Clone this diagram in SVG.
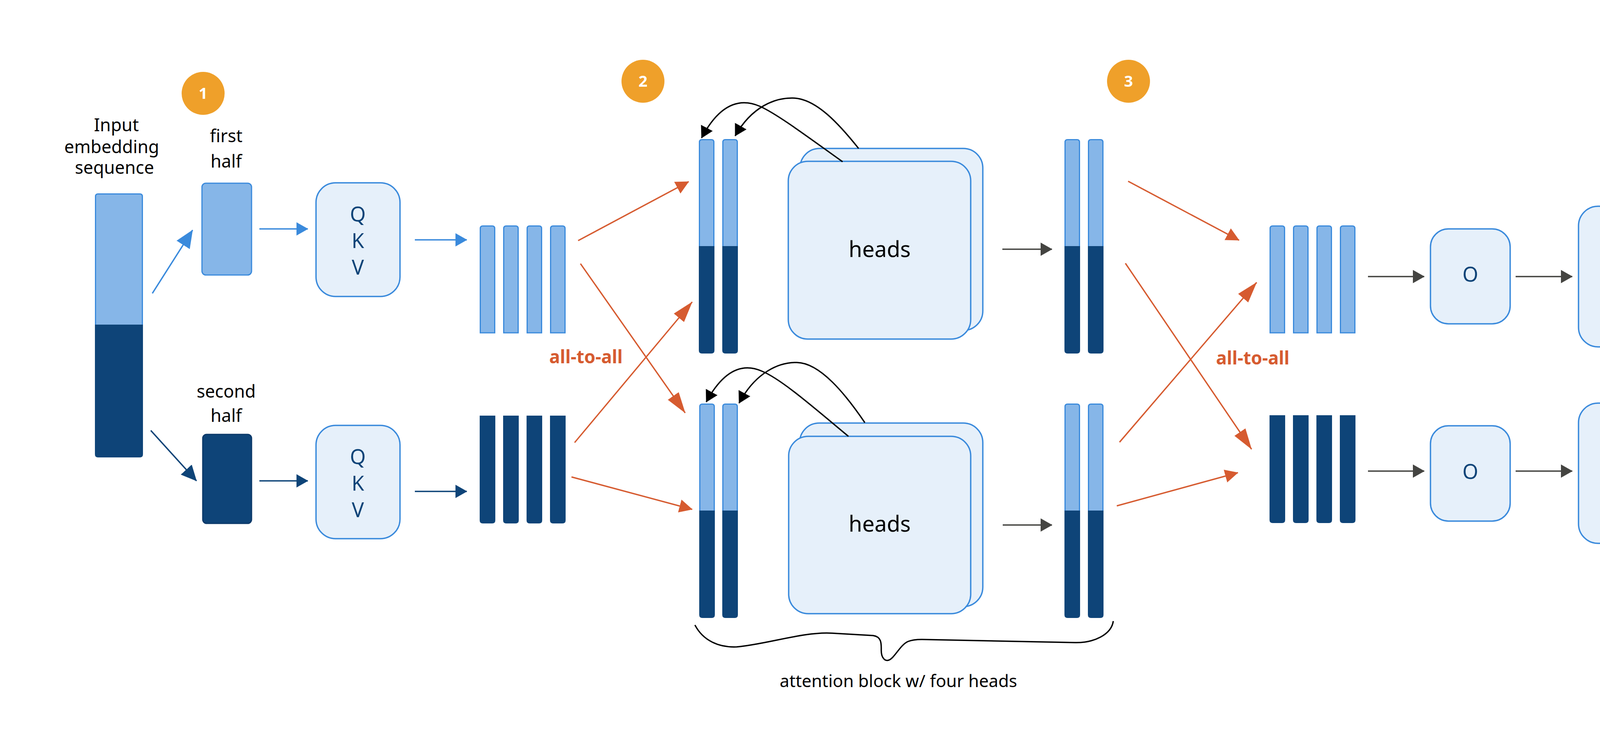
<svg xmlns="http://www.w3.org/2000/svg" width="4800" height="1920" viewBox="0 0 4800 1920">
<style>
.lt{fill:#86B6E8;stroke:#3A8ADC;stroke-width:3}
.dk{fill:#0E4478}
.box{fill:#E6F0FA;stroke:#3A8ADC;stroke-width:3.5}
.t{font-family:"Noto Sans","Open Sans",sans-serif;fill:#000;text-anchor:middle}
.lbl{font-family:"Noto Sans","Open Sans",sans-serif;fill:#0E4478;text-anchor:middle;font-size:52px}
.mlp{font-family:"Noto Sans","Open Sans",sans-serif;fill:#0E4478;text-anchor:middle;font-size:58px}
.a2a{font-family:"Noto Sans","Open Sans",sans-serif;fill:#D65B30;text-anchor:middle;font-size:46px;font-weight:bold}
.badge{fill:#EFA02A}
.num{font-family:"Noto Sans","Open Sans",sans-serif;fill:#fff;text-anchor:middle;font-size:40px;font-weight:bold}
.dots{font-family:"Liberation Sans",Arial,sans-serif;fill:#8A8A84;font-size:100px;letter-spacing:0.2px}
.cb{fill:none;stroke:#3A8ADC;stroke-width:3.5}
.cd{fill:none;stroke:#0E4478;stroke-width:3.5}
.co{fill:none;stroke:#D65B30;stroke-width:3.5}
.cg{fill:none;stroke:#444441;stroke-width:3.5}
.ck{fill:none;stroke:#000;stroke-width:3.5}
</style>
<defs>
<marker id="mB" markerUnits="userSpaceOnUse" markerWidth="32" markerHeight="36" refX="29" refY="17" orient="auto"><path d="M0,0 L30,17 L0,34 Z" fill="#3A8ADC"/></marker>
<marker id="mBL" markerUnits="userSpaceOnUse" markerWidth="48" markerHeight="42" refX="45" refY="20" orient="auto"><path d="M0,0 L46,20 L0,40 Z" fill="#3A8ADC"/></marker>
<marker id="mD" markerUnits="userSpaceOnUse" markerWidth="32" markerHeight="36" refX="29" refY="17" orient="auto"><path d="M0,0 L30,17 L0,34 Z" fill="#0E4478"/></marker>
<marker id="mDL" markerUnits="userSpaceOnUse" markerWidth="42" markerHeight="40" refX="39" refY="19" orient="auto"><path d="M0,0 L40,19 L0,38 Z" fill="#0E4478"/></marker>
<marker id="mO" markerUnits="userSpaceOnUse" markerWidth="36" markerHeight="36" refX="33" refY="17" orient="auto"><path d="M0,0 L34,17 L0,34 Z" fill="#D65B30"/></marker>
<marker id="mOL" markerUnits="userSpaceOnUse" markerWidth="56" markerHeight="36" refX="53" refY="17" orient="auto"><path d="M0,0 L54,17 L0,34 Z" fill="#D65B30"/></marker>
<marker id="mG" markerUnits="userSpaceOnUse" markerWidth="32" markerHeight="36" refX="29" refY="17" orient="auto"><path d="M0,0 L30,17 L0,34 Z" fill="#444441"/></marker>
<marker id="mK" markerUnits="userSpaceOnUse" markerWidth="32" markerHeight="36" refX="29" refY="17" orient="auto"><path d="M0,0 L30,17 L0,34 Z" fill="#000"/></marker>
<g id="aBar">
<path class="dk" d="M0,272 H40 V541 Q40,549 32,549 H8 Q0,549 0,541 Z"/>
<path class="lt" d="M1.5,274 V8 Q1.5,1.5 8,1.5 H32 Q38.5,1.5 38.5,8 V274"/>
</g>
<path id="qL" class="lt" d="M1.5,275 V8 Q1.5,1.5 8,1.5 H32 Q38.5,1.5 38.5,8 V275 Z"/>
<path id="qD" class="dk" d="M0,0 H40 V268 Q40,276 32,276 H8 Q0,276 0,268 Z"/>
</defs>
<rect width="4800" height="1920" fill="#fff"/>

<g id="badge1"><circle class="badge" cx="520" cy="239" r="55"/><text class="num" x="520" y="253">1</text></g>
<g id="badge2"><circle class="badge" cx="1646" cy="208" r="55"/><text class="num" x="1646" y="222">2</text></g>
<g id="badge3"><circle class="badge" cx="2889" cy="208" r="55"/><text class="num" x="2889" y="222">3</text></g>

<g id="input">
<text class="t" font-size="45" x="298" y="336">Input</text>
<text class="t" font-size="45" x="286" y="392">embedding</text>
<text class="t" font-size="45" x="293" y="445">sequence</text>
<path class="dk" d="M243,829 H366 V1163 Q366,1171 358,1171 H251 Q243,1171 243,1163 Z"/>
<path class="lt" d="M244.5,831 V503 Q244.5,496.5 251,496.5 H358 Q364.5,496.5 364.5,503 V831"/>
</g>

<g id="firstHalf">
<text class="t" font-size="45" x="579" y="364">first</text>
<text class="t" font-size="45" x="579" y="429">half</text>
<rect class="lt" x="517" y="469" width="127" height="235" rx="10" stroke-width="3.5"/>
</g>

<g id="secondHalf">
<text class="t" font-size="45" x="579" y="1018">second</text>
<text class="t" font-size="45" x="579" y="1080">half</text>
<rect x="519" y="1112" width="125" height="228" rx="10" fill="#0E4478" stroke="#0B3868" stroke-width="3"/>
</g>

<g id="qkvTop">
<rect class="box" x="809" y="468" width="215" height="291" rx="50"/>
<text class="lbl" x="916" y="567">Q</text>
<text class="lbl" x="916" y="635">K</text>
<text class="lbl" x="916" y="703">V</text>
</g>
<g id="qkvBottom">
<rect class="box" x="809" y="1089" width="215" height="290" rx="50"/>
<text class="lbl" x="916" y="1188">Q</text>
<text class="lbl" x="916" y="1256">K</text>
<text class="lbl" x="916" y="1324">V</text>
</g>

<g id="headsTopLeft">
<use href="#qL" x="1228" y="577"/><use href="#qL" x="1288" y="577"/><use href="#qL" x="1348" y="577"/><use href="#qL" x="1408" y="577"/>
</g>
<g id="headsBottomLeft">
<use href="#qD" x="1228" y="1064"/><use href="#qD" x="1288" y="1064"/><use href="#qD" x="1348" y="1064"/><use href="#qD" x="1408" y="1064"/>
</g>

<g id="labelA2A1"><text class="a2a" x="1500" y="930">all-to-all</text></g>

<g id="attnTopIn"><use href="#aBar" x="1789" y="356"/><use href="#aBar" x="1849" y="356"/></g>
<g id="attnBottomIn"><use href="#aBar" x="1790" y="1033"/><use href="#aBar" x="1849" y="1033"/></g>

<g id="headsTop">
<rect class="box" x="2048" y="380" width="468" height="466" rx="50"/>
<rect class="box" x="2018" y="413" width="467" height="455" rx="50"/>
<text class="t" font-size="56" x="2252" y="658">heads</text>
</g>
<g id="headsBottom">
<rect class="box" x="2047" y="1083" width="469" height="470" rx="50"/>
<rect class="box" x="2019" y="1117" width="466" height="454" rx="50"/>
<text class="t" font-size="56" x="2252" y="1361">heads</text>
</g>

<g id="attnTopOut"><use href="#aBar" x="2725" y="356"/><use href="#aBar" x="2785" y="356"/></g>
<g id="attnBottomOut"><use href="#aBar" x="2725" y="1033"/><use href="#aBar" x="2785" y="1033"/></g>

<g id="brace">
<path class="ck" d="M1779,1600 C1800,1640 1840,1658 1886,1656 C1960,1650 2060,1616 2131,1621 L2235,1627 C2258,1630 2256,1650 2256,1665 C2256,1685 2266,1693 2275,1690 C2290,1685 2305,1650 2325,1642 C2335,1638 2345,1637 2360,1637 L2752,1645 C2800,1646 2845,1625 2850,1590"/>
<text class="t" font-size="44" x="2300" y="1759">attention block w/ four heads</text>
</g>

<g id="labelA2A2"><text class="a2a" x="3207" y="933">all-to-all</text></g>

<g id="outTop">
<use href="#qL" x="3250" y="577"/><use href="#qL" x="3310" y="577"/><use href="#qL" x="3370" y="577"/><use href="#qL" x="3430" y="577"/>
</g>
<g id="outBottom">
<use href="#qD" x="3250" y="1063"/><use href="#qD" x="3310" y="1063"/><use href="#qD" x="3370" y="1063"/><use href="#qD" x="3430" y="1063"/>
</g>

<g id="oTop"><rect class="box" x="3662" y="586" width="204" height="243" rx="46"/><text class="lbl" x="3764" y="721">O</text></g>
<g id="oBottom"><rect class="box" x="3662" y="1090" width="204" height="244" rx="46"/><text class="lbl" x="3764" y="1226">O</text></g>

<g id="mlpTop">
<rect class="box" x="4041" y="528" width="272" height="360" rx="50"/>
<text class="mlp" x="4177" y="636">M</text><text class="mlp" x="4177" y="712">L</text><text class="mlp" x="4177" y="791">P</text>
</g>
<g id="mlpBottom">
<rect class="box" x="4041" y="1032" width="272" height="359" rx="50"/>
<text class="mlp" x="4177" y="1140">M</text><text class="mlp" x="4177" y="1217">L</text><text class="mlp" x="4177" y="1294">P</text>
</g>

<g id="dotsTop"><text class="dots" x="4566" y="699">...</text></g>
<g id="dotsBottom"><text class="dots" x="4566" y="1204">...</text></g>

<g id="connectors">
<path class="cb" d="M390,751 L493,589" marker-end="url(#mBL)"/>
<path class="cd" d="M386,1102 L503,1231" marker-end="url(#mDL)"/>
<path class="cb" d="M664,586 H788" marker-end="url(#mB)"/>
<path class="cd" d="M664,1231 H788" marker-end="url(#mD)"/>
<path class="cb" d="M1062,614 H1195" marker-end="url(#mB)"/>
<path class="cd" d="M1062,1258 H1195" marker-end="url(#mD)"/>

<path class="co" d="M1480,616 L1763,465" marker-end="url(#mO)"/>
<path class="co" d="M1486,675 L1754,1057" marker-end="url(#mOL)"/>
<path class="co" d="M1471,1133 L1772,773" marker-end="url(#mOL)"/>
<path class="co" d="M1463,1221 L1772,1304" marker-end="url(#mO)"/>

<path class="ck" d="M2157,414 C2070,352 1990,292 1945,272 C1890,248 1840,270 1796,353" marker-end="url(#mK)"/>
<path class="ck" d="M2198,380 C2150,320 2090,252 2030,251 C1985,250 1925,272 1882,348" marker-end="url(#mK)"/>
<path class="ck" d="M2172,1117 C2085,1045 2000,970 1950,950 C1900,928 1852,948 1808,1029" marker-end="url(#mK)"/>
<path class="ck" d="M2214,1082 C2165,1010 2100,929 2040,928 C1995,927 1935,952 1892,1032" marker-end="url(#mK)"/>

<path class="cg" d="M2566,638 H2693" marker-end="url(#mG)"/>
<path class="cg" d="M2567,1344 H2693" marker-end="url(#mG)"/>

<path class="co" d="M2888,464 L3172,615" marker-end="url(#mO)"/>
<path class="co" d="M2881,674 L3204,1150" marker-end="url(#mOL)"/>
<path class="co" d="M2866,1132 L3217,723" marker-end="url(#mOL)"/>
<path class="co" d="M2859,1295 L3169,1210" marker-end="url(#mO)"/>

<path class="cg" d="M3502,708 H3646" marker-end="url(#mG)"/>
<path class="cg" d="M3880,708 H4025" marker-end="url(#mG)"/>
<path class="cg" d="M4331,708 H4475" marker-end="url(#mG)"/>
<path class="cg" d="M3502,1206 H3646" marker-end="url(#mG)"/>
<path class="cg" d="M3880,1206 H4025" marker-end="url(#mG)"/>
<path class="cg" d="M4331,1206 H4475" marker-end="url(#mG)"/>
</g>
</svg>
